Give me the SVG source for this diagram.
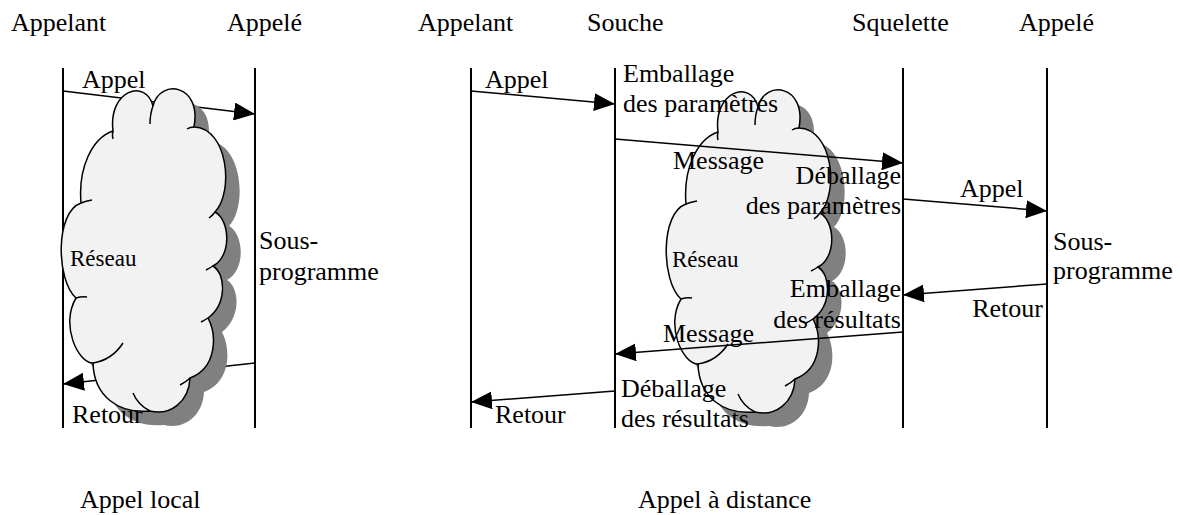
<svg xmlns="http://www.w3.org/2000/svg" width="1180" height="515" viewBox="0 0 1180 515" font-family="'Liberation Serif', 'DejaVu Serif', serif">
<style>
text{font-family:'Liberation Serif','DejaVu Serif',serif;font-size:26px;fill:#000}
.s{font-size:23px}
.e{text-anchor:end}
.life{stroke:#000;stroke-width:2}
.arr{stroke:#000;stroke-width:1.5;fill:none;marker-end:url(#ah)}
.cloud{fill:#f2f2f2;stroke:#000;stroke-width:1.5}
.tick{fill:none;stroke:#000;stroke-width:1.5}
.shadow{fill:#808080}
</style>
<defs>
<path id="cloudShape" d="M81 203 C78 168 92 138 113 131 C108 90 146 78 153 106 C160 78 202 84 194 127 C228 128 234 192 215 212 C230 220 232 256 213 266 C226 274 227 304 208 318 C217 335 217 368 190 378 C189 402 170 416 150 411 C118 414 94 396 93 363 C78 363 60 325 76 298 C56 280 55 212 81 203 Z"/>
<path id="cloudTicks" d="M113 131 Q112 135 113 139 M153 106 Q150 114 150 124 M194 127 Q190 127 187 129 M215 212 Q213 215 209 218 M213 266 Q210 268 206 270 M208 318 Q205 320 201 322 M190 378 Q186 382 180 385 M150 411 Q138 405 133 393 M93 363 Q112 360 123 343 M76 298 Q82 296 87 297 M81 203 Q86 201 92 200"/>
<marker id="ah" markerUnits="userSpaceOnUse" markerWidth="21" markerHeight="18" refX="21" refY="9" orient="auto">
<path d="M0 0 L21 9 L0 18 Z" fill="#000"/>
</marker>
</defs>
<rect width="1180" height="515" fill="#fff"/>

<g id="local-appelant"><text x="11" y="31">Appelant</text><line class="life" x1="63" y1="68" x2="63" y2="428"/></g>
<g id="local-appele"><text x="227" y="31">Appelé</text><line class="life" x1="255" y1="68" x2="255" y2="428"/></g>
<g id="dist-appelant"><text x="418" y="31">Appelant</text><line class="life" x1="471" y1="68" x2="471" y2="428"/></g>
<g id="dist-souche"><text x="587" y="31">Souche</text><line class="life" x1="615" y1="68" x2="615" y2="428"/></g>
<g id="dist-squelette"><text x="852" y="31">Squelette</text><line class="life" x1="903" y1="68" x2="903" y2="428"/></g>
<g id="dist-appele"><text x="1019" y="31">Appelé</text><line class="life" x1="1047" y1="68" x2="1047" y2="428"/></g>

<g id="reseau-distance" transform="translate(605,1)">
<use href="#cloudShape" class="shadow" transform="translate(14,14)"/>
<use href="#cloudShape" class="cloud"/>
<use href="#cloudTicks" class="tick"/>
<text class="s" x="67" y="266">Réseau</text>
</g>

<g id="connectors">
<line class="arr" x1="63" y1="91" x2="255" y2="114"/>
<line class="arr" x1="255" y1="363" x2="63" y2="384"/>
<line class="arr" x1="471" y1="91" x2="615" y2="104"/>
<line class="arr" x1="615" y1="139" x2="903" y2="163"/>
<line class="arr" x1="903" y1="199" x2="1047" y2="211"/>
<line class="arr" x1="1047" y1="284" x2="903" y2="295"/>
<line class="arr" x1="903" y1="332" x2="615" y2="354"/>
<line class="arr" x1="615" y1="391" x2="471" y2="402"/>
</g>

<g id="reseau-local">
<use href="#cloudShape" class="shadow" transform="translate(14,14)"/>
<use href="#cloudShape" class="cloud"/>
<use href="#cloudTicks" class="tick"/>
<text class="s" x="70" y="266">Réseau</text>
</g>

<g id="labels">
<text x="82" y="88">Appel</text>
<text x="259" y="249">Sous-</text>
<text x="259" y="280">programme</text>
<text x="72" y="423">Retour</text>
<text x="485" y="88">Appel</text>
<text x="623" y="82">Emballage</text>
<text x="623" y="112">des paramètres</text>
<text x="673" y="169">Message</text>
<text class="e" x="901" y="184">Déballage</text>
<text class="e" x="901" y="214">des paramètres</text>
<text x="960" y="197">Appel</text>
<text x="1053" y="250">Sous-</text>
<text x="1053" y="279">programme</text>
<text class="e" x="1043" y="317">Retour</text>
<text class="e" x="901" y="297">Emballage</text>
<text class="e" x="901" y="328">des résultats</text>
<text x="663" y="342">Message</text>
<text x="621" y="397">Déballage</text>
<text x="621" y="427">des résultats</text>
<text x="495" y="423">Retour</text>
<text x="80" y="508">Appel local</text>
<text x="638" y="508">Appel à distance</text>
</g>
</svg>
